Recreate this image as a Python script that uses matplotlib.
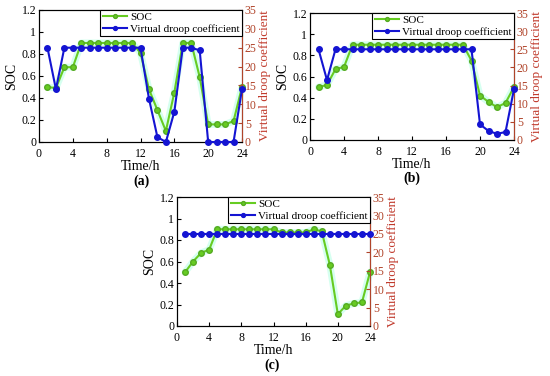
import matplotlib
matplotlib.use("Agg")
import matplotlib.pyplot as plt

plt.rcParams['font.family'] = ['Liberation Serif', 'DejaVu Serif']
plt.rcParams['mathtext.fontset'] = 'stix'

hours = list(range(1, 25))

soc_a = [0.50, 0.49, 0.68, 0.68, 0.90, 0.90, 0.90, 0.90, 0.90, 0.90, 0.90, 0.81,
         0.48, 0.29, 0.10, 0.45, 0.90, 0.90, 0.59, 0.16, 0.16, 0.16, 0.19, 0.50]
k_a = [25, 14, 25, 25, 25, 25, 25, 25, 25, 25, 25, 25,
       11.5, 1.3, 0, 8, 25, 25, 24.3, 0, 0, 0, 0, 14]

soc_b = [0.50, 0.52, 0.67, 0.69, 0.90, 0.90, 0.90, 0.90, 0.90, 0.90, 0.90, 0.90,
         0.90, 0.90, 0.90, 0.90, 0.90, 0.90, 0.75, 0.42, 0.36, 0.31, 0.35, 0.50]
k_b = [25, 16.5, 25, 25, 25, 25, 25, 25, 25, 25, 25, 25,
       25, 25, 25, 25, 25, 25, 25, 4.3, 2.5, 1.7, 2.2, 14]

soc_c = [0.50, 0.60, 0.68, 0.71, 0.90, 0.90, 0.90, 0.90, 0.90, 0.90, 0.90, 0.90,
         0.87, 0.87, 0.87, 0.87, 0.90, 0.88, 0.57, 0.11, 0.19, 0.21, 0.22, 0.50]
k_c = [25] * 24

xticks = [0, 4, 8, 12, 16, 20, 24]
yticks_left = [0, 0.2, 0.4, 0.6, 0.8, 1.0, 1.2]
ytick_left_labels = ['0', '0.2', '0.4', '0.6', '0.8', '1', '1.2']
yticks_right = [0, 5, 10, 15, 20, 25, 30, 35]

panels = [
    ('(a)', soc_a, k_a, [39, 10, 242, 142], (141, 181)),
    ('(b)', soc_b, k_b, [310, 13, 514, 140], (412, 178)),
    ('(c)', soc_c, k_c, [177, 197, 370, 326], (272, 365)),
]

W, H = 550, 376
fig = plt.figure(figsize=(W / 100, H / 100), dpi=100)

green = '#66cc22'
green_edge = '#55aa22'
blue = '#1414d2'
red_axis = '#b0442a'
red_label = '#c0392b'

for tag, soc, k, (x0, y0, x1, y1), (tx, ty) in panels:
    ax = fig.add_axes([x0 / W, 1 - y1 / H, (x1 - x0) / W, (y1 - y0) / H])
    ax.plot(hours, soc, color='#d6fff0', lw=5, solid_capstyle='round', zorder=1,
            clip_on=False)
    l1, = ax.plot(hours, soc, color=green, lw=1.5, marker='o', ms=4,
                  mfc=green, mec=green_edge, zorder=3, label='SOC', clip_on=False)
    ax.set_xlim(0, 24)
    ax.set_ylim(0, 1.2)
    ax.set_xticks(xticks)
    ax.set_yticks(yticks_left)
    ax.set_yticklabels(ytick_left_labels)
    ax.tick_params(labelsize=8.5, direction='in', length=3, pad=2)
    ax.tick_params(axis='x', pad=4.5)
    ax.set_xlabel('Time/h', fontsize=10, labelpad=0)
    ax.set_ylabel('SOC', fontsize=10, labelpad=2)

    ax2 = ax.twinx()
    l2, = ax2.plot(hours, k, color=blue, lw=1.5, marker='o', ms=4,
                   mfc=blue, mec=blue, zorder=4, label='Virtual droop coefficient',
                   clip_on=False)
    ax2.set_ylim(0, 35)
    ax2.set_yticks(yticks_right)
    ax2.tick_params(axis='y', labelsize=8.5, direction='in', length=3, pad=2,
                    colors=red_axis)
    ax2.spines['right'].set_color(red_axis)
    ax2.set_ylabel('Virtual droop coefficient', fontsize=9.5, color=red_label,
                   labelpad=2)

    leg = ax2.legend(handles=[l1, l2], loc='upper right', fontsize=8,
                     frameon=True, fancybox=False, edgecolor='black',
                     borderpad=0.2, handlelength=2.2, handletextpad=0.3,
                     labelspacing=0.2, borderaxespad=0.0, markerscale=0.7)
    leg.get_frame().set_linewidth(0.8)
    leg.get_frame().set_alpha(1)

    fig.text(tx / W, 1 - ty / H, tag, fontsize=10, fontweight='bold',
             ha='center', va='center')

fig.savefig('out.png', dpi=100)
